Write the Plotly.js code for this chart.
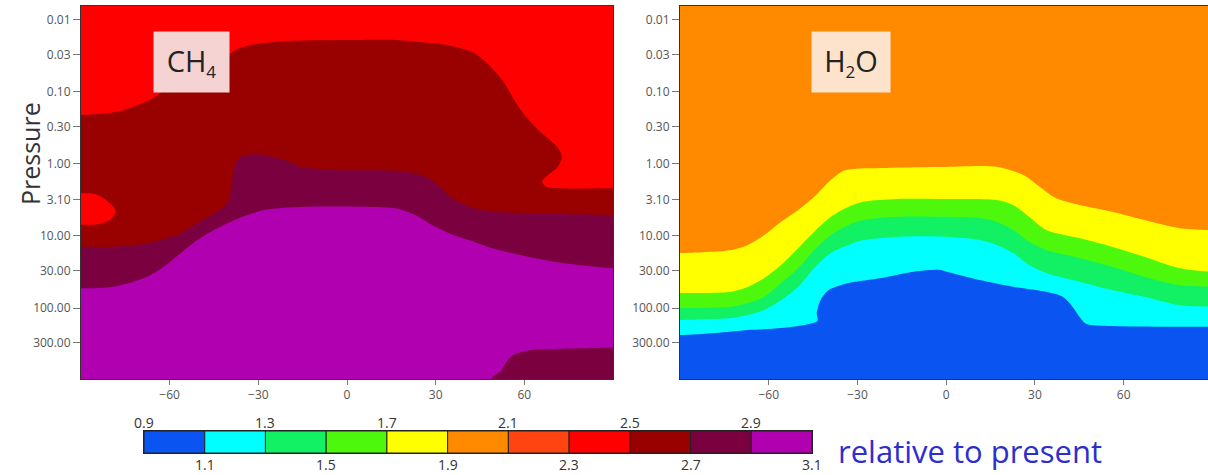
<!DOCTYPE html>
<html><head><meta charset="utf-8">
<script src="https://cdn.plot.ly/plotly-3.0.1.min.js"></script>
<style>html,body{margin:0;padding:0;background:#fff}#chart{width:1208px;height:475px}</style>
</head><body><div id="chart"></div>
<script>
// ---- colour scale (ratio relative to present) ----
const levels = [0.9,1.1,1.3,1.5,1.7,1.9,2.1,2.3,2.5,2.7,2.9,3.1];
const bandColors = ['#0a55f2','#00ffff','#12f064','#4ef80c','#ffff00','#ff8a00','#ff4412','#ff0000','#990000','#7a0040','#b000b0'];
const topLabels = [0.9,1.3,1.7,2.1,2.5,2.9];
const bottomLabels = [1.1,1.5,1.9,2.3,2.7,3.1];

// ---- axes ----
const latTicks = [-60,-30,0,30,60];
const pTicks = [0.01,0.03,0.1,0.3,1,3.1,10,30,100,300];
const pTickText = ['0.01','0.03','0.10','0.30','1.00','3.10','10.00','30.00','100.00','300.00'];

// ---- CH4 contour boundaries (latitude, pressure hPa) ----
const ch4_25_lat = [-90,-77.4,-66.7,-64,-52,-40.2,-37.2,-30.5,-23.8,-17.1,3,16.4,23,29.8,36.5,43.2,48.6,52.5,55.3,58,60.6,64.7,68.7,71.4,72.7,71.4,68.7,66,67.4,72.7,90];
const ch4_25_p   = [0.209,0.187,0.129,0.110,0.05,0.0306,0.0255,0.0215,0.020,0.0194,0.019,0.019,0.020,0.0211,0.0235,0.029,0.0445,0.068,0.104,0.16,0.22,0.337,0.464,0.605,0.79,1.09,1.35,1.76,2.07,2.18,2.18];
const ch4Blob_lat = [-90,-85.4,-82,-79,-78.3,-79.7,-83.7,-87.8,-90];
const ch4Blob_p   = [2.54,2.6,3.06,3.96,4.6,5.8,6.8,7.0,7.0];
const ch4_27_lat = [-90,-79,-67.6,-56.3,-50.6,-45,-40.4,-38.8,-37.6,-35.9,-30.5,-21.1,-15.8,-3.7,16.4,23,28.5,32.5,36.5,43.2,50,60,70,90];
const ch4_27_p   = [14.1,14.1,12.6,9.2,6.67,4.84,3.52,1.67,0.97,0.79,0.73,0.88,1.09,1.21,1.24,1.35,1.67,2.29,3.16,4.12,4.6,4.8,4.9,5.1];
const ch4_29_lat = [-90,-79,-67.6,-62,-56.3,-50.6,-45,-39.3,-33.7,-26.9,-15.6,3,16.4,23,29.8,36,43,47.4,58.6,70,90];
const ch4_29_p   = [53.3,50.6,36.7,26.7,17.4,11.4,8.25,6.33,5.1,4.26,3.95,3.92,4.12,5.1,7.4,9.7,12,14.1,18.4,22.7,27.9];
const ch4Patch_lat = [49,51.9,54,56.3,61,70,90];
const ch4Patch_p   = [938,767,557,450,392,371,356];

// ---- H2O contour boundaries (latitude, pressure hPa) ----
const h2o_19_lat = [-90,-72.6,-67,-61.5,-55.8,-50,-44.6,-39,-34.6,-22,-2,17,26,31.6,37,45,56,67,78.6,90];
const h2o_19_p   = [17.2,15.6,13.3,9.7,6.33,4.35,2.85,1.67,1.24,1.14,1.10,1.09,1.42,2.07,2.97,3.71,4.6,6.0,7.74,8.3];
const h2o_17_lat = [-90,-72.6,-67,-61.5,-55.8,-50,-44.6,-39,-33,-28,-16.6,-2,17,22.6,28,33.8,45,56,67,78.6,90];
const h2o_17_p   = [61.9,59.4,50.6,38.3,25.3,14.7,8.71,5.4,3.92,3.34,3.06,3.06,3.16,3.71,5.4,8.25,10.7,14.1,19.4,27.8,31.5];
const h2o_15_lat = [-90,-72.6,-67,-61.5,-55.8,-50,-44.6,-39,-33,-28,-16.6,-2,11.4,17,22.6,28,33.8,45,56,67,78.6,90];
const h2o_15_p   = [100,95.9,85.3,69.7,45,27.8,15.6,9.68,7.04,6.0,5.4,5.4,5.62,6.33,8.25,12,15.6,20.2,26.7,36.7,48,50.6];
const h2o_13_lat = [-90,-72.6,-67,-61.5,-55.8,-50,-44.6,-39,-33,-28,-16.6,-2,11.4,17,22.6,28,33.8,45,56,67,78.6,90];
const h2o_13_p   = [147,138,125,107,77.4,50.6,27.8,17.2,13.3,11.4,10.3,10.2,11.4,13.3,17.2,25.3,32.7,43.1,56.2,69.7,90.9,95.9];
const h2o_11_lat = [-90,-78,-67,-55.8,-46,-43.5,-43.8,-43.3,-42.3,-39.6,-33,-22,-11,-2,0.2,11.4,22.6,33.8,39.4,42.7,45,47.3,56,90];
const h2o_11_p   = [237,222,202,190,165,150,120,96,75,56,45,38.3,31.3,29.6,31.3,40.8,50.6,59.4,69.7,95.9,132,165,178,182];

const EXT = 100, DEEP = 1e4;
function base(extra) {
  return Object.assign({type:'scatter', mode:'lines', fill:'toself', hoverinfo:'skip', showlegend:false,
    line:{width:0, shape:'spline', smoothing:0.8}}, extra);
}
// region below (higher pressure than) a boundary line
function below(lat, p, color, xa, ya) {
  return base({x:[-EXT].concat(lat,[EXT,EXT,-EXT]), y:[p[0]].concat(p,[p[p.length-1],DEEP,DEEP]),
    fillcolor:color, xaxis:xa, yaxis:ya});
}
// closed region attached to the left edge
function leftIsland(lat, p, color, xa, ya) {
  return base({x:[-EXT].concat(lat,[-EXT]), y:[p[0]].concat(p,[p[p.length-1]]), fillcolor:color, xaxis:xa, yaxis:ya});
}
// region attached to bottom-right corner
function bottomRight(lat, p, color, xa, ya) {
  return base({x:[lat[0]].concat(lat,[EXT,EXT]), y:[DEEP].concat(p,[p[p.length-1],DEEP]), fillcolor:color, xaxis:xa, yaxis:ya});
}

const traces = [
  below(ch4_25_lat, ch4_25_p, bandColors[8], 'x', 'y'),
  leftIsland(ch4Blob_lat, ch4Blob_p, bandColors[7], 'x', 'y'),
  below(ch4_27_lat, ch4_27_p, bandColors[9], 'x', 'y'),
  below(ch4_29_lat, ch4_29_p, bandColors[10], 'x', 'y'),
  bottomRight(ch4Patch_lat, ch4Patch_p, bandColors[9], 'x', 'y'),

  below(h2o_19_lat, h2o_19_p, bandColors[4], 'x2', 'y2'),
  below(h2o_17_lat, h2o_17_p, bandColors[3], 'x2', 'y2'),
  below(h2o_15_lat, h2o_15_p, bandColors[2], 'x2', 'y2'),
  below(h2o_13_lat, h2o_13_p, bandColors[1], 'x2', 'y2'),
  below(h2o_11_lat, h2o_11_p, bandColors[0], 'x2', 'y2'),
];

// colour bar as bars
const mids = bandColors.map((c,i)=> (levels[i]+levels[i+1])/2);
traces.push({type:'bar', x:mids, y:bandColors.map(()=>1), width:0.2, xaxis:'x3', yaxis:'y3',
  marker:{color:bandColors, line:{color:'#222', width:1}}, hoverinfo:'skip', showlegend:false});

const W = 1208, H = 475;
const tickFont = {family:'Open Sans, sans-serif', size:12, color:'#555'};
const yDom = [1-379/H, 1-6/H];
const yRange = [Math.log10(968), Math.log10(0.0064)];
function xAx(dom, rng, anchor) {
  return {domain:dom, range:rng, anchor:anchor, tickvals:latTicks, ticks:'outside', ticklen:5, tickcolor:'#777',
    showline:true, mirror:true, linecolor:'#333', linewidth:1, showgrid:false, zeroline:false, tickfont:tickFont, fixedrange:true};
}
function yAx(anchor) {
  return {domain:yDom, type:'log', range:yRange, anchor:anchor, tickvals:pTicks, ticktext:pTickText, ticks:'outside',
    ticklen:7, tickcolor:'#777', showline:true, mirror:true, linecolor:'#333', linewidth:1, showgrid:false, zeroline:false,
    tickfont:tickFont, fixedrange:true};
}

const boxFont = {family:'Open Sans, sans-serif', size:29, color:'#222'};
const cbFont = {family:'Open Sans, sans-serif', size:14, color:'#333'};
const annotations = [
  {text:'CH<sub><span style="font-size:17px">4</span></sub>', xref:'paper', yref:'paper', x:191.5/W, y:1-62/H,
   xanchor:'center', yanchor:'middle', showarrow:false, width:73, height:58, bgcolor:'#f5d3d3', font:boxFont},
  {text:'H<sub><span style="font-size:17px">2</span></sub>O', xref:'paper', yref:'paper', x:851/W, y:1-62/H,
   xanchor:'center', yanchor:'middle', showarrow:false, width:76, height:58, bgcolor:'#fde3cc', font:boxFont},
  {text:'Pressure', xref:'paper', yref:'paper', x:30/W, y:1-153/H, xanchor:'center', yanchor:'middle', showarrow:false,
   textangle:-90, font:{family:'Open Sans, sans-serif', size:25, color:'#333'}},
  {text:'relative to present', xref:'paper', yref:'paper', x:836/W, y:1-451/H, xanchor:'left', yanchor:'middle', showarrow:false,
   font:{family:'Open Sans, sans-serif', size:31, color:'#2e2ecc'}},
];
topLabels.forEach(v => annotations.push({text:v.toFixed(1), xref:'x3', yref:'paper', x:v, y:1-422/H,
  xanchor:'center', yanchor:'middle', showarrow:false, font:cbFont}));
bottomLabels.forEach(v => annotations.push({text:v.toFixed(1), xref:'x3', yref:'paper', x:v, y:1-464/H,
  xanchor:'center', yanchor:'middle', showarrow:false, font:cbFont}));

const layout = {
  width:W, height:H, margin:{l:0, r:0, t:0, b:0}, paper_bgcolor:'#fff', plot_bgcolor:'rgba(0,0,0,0)',
  showlegend:false, bargap:0,
  xaxis: xAx([81/W, 613/W], [-90, 90], 'y'),
  yaxis: yAx('x'),
  xaxis2: xAx([680/W, 1], [-90, 88.5], 'y2'),
  yaxis2: yAx('x2'),
  xaxis3: {domain:[144/W, 812/W], range:[0.9, 3.1], anchor:'y3', showticklabels:false, ticks:'', showgrid:false,
    zeroline:false, showline:true, mirror:true, linecolor:'#222', fixedrange:true},
  yaxis3: {domain:[1-453/H, 1-431/H], range:[0, 1], anchor:'x3', showticklabels:false, ticks:'', showgrid:false,
    zeroline:false, showline:true, mirror:true, linecolor:'#222', fixedrange:true},
  shapes: [
    {type:'rect', xref:'x domain', yref:'y domain', x0:0, x1:1, y0:0, y1:1, fillcolor:bandColors[7], line:{width:0}, layer:'below'},
    {type:'rect', xref:'x2 domain', yref:'y2 domain', x0:0, x1:1, y0:0, y1:1, fillcolor:bandColors[5], line:{width:0}, layer:'below'},
  ],
  annotations: annotations,
};

Plotly.newPlot('chart', traces, layout, {displayModeBar:false, staticPlot:true});
</script></body></html>
